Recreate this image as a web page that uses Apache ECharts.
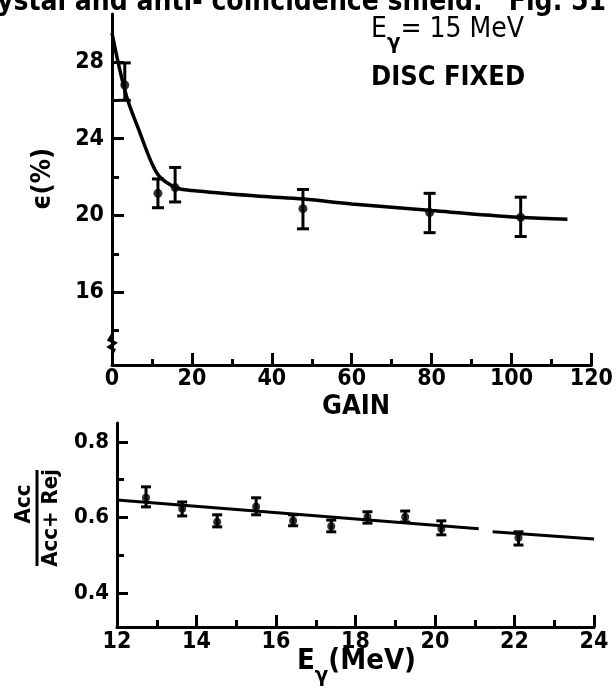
<!DOCTYPE html>
<html>
<head>
<meta charset="utf-8">
<script src="https://cdn.jsdelivr.net/npm/echarts@6/dist/echarts.min.js"></script>
<style>
  html, body { margin: 0; padding: 0; background: #fff; }
  #chart { width: 616px; height: 688px; }
</style>
</head>
<body>
<div id="chart"></div>
<script>
// ---- Upper panel: detection efficiency vs. gain (E_gamma = 15 MeV, disc fixed) ----
const gainPts  = [3.2, 11.5, 15.8, 47.8, 79.5, 102.3];
const effPts   = [26.8, 21.15, 21.45, 20.35, 20.15, 19.9];
const effLow   = [26.0, 20.4, 20.7, 19.3, 19.1, 18.9];
const effHigh  = [27.95, 21.9, 22.5, 21.35, 21.15, 20.95];
// hand-drawn trend curve through the efficiency points
const effCurveGain = [0, 3.5, 7, 10, 12, 16, 20, 37, 48, 60, 80, 102, 114];
const effCurveVal  = [29.5, 26.3, 24.3, 22.7, 22.0, 21.45, 21.3, 21.0, 20.85, 20.6, 20.25, 19.9, 19.8];
const effMajorTicks = [16, 20, 24, 28];
const effMinorTicks = [14, 18, 22, 26];
const effAxisBreak = 13.3;   // suppressed-zero mark on the efficiency axis

// ---- Lower panel: Acc/(Acc+Rej) vs. photon energy ----
const energyPts = [12.73, 13.64, 14.52, 15.5, 16.43, 17.39, 18.3, 19.25, 20.16, 22.1];
const ratioPts  = [0.652, 0.623, 0.588, 0.628, 0.591, 0.577, 0.601, 0.601, 0.570, 0.546];
const ratioLow  = [0.628, 0.604, 0.575, 0.607, 0.578, 0.562, 0.585, 0.588, 0.554, 0.527];
const ratioHigh = [0.681, 0.641, 0.607, 0.652, 0.607, 0.593, 0.615, 0.617, 0.591, 0.562];
// straight fit line, drawn in two pieces with a small gap near 21 MeV
const fitLeftE  = [12, 21.1];
const fitLeftR  = [0.646, 0.570];
const fitRightE = [21.45, 24];
const fitRightR = [0.562, 0.543];
const ratioMajorTicks = [0.4, 0.6, 0.8];
const ratioMinorTicks = [0.5, 0.7];

const INK = '#000';
const FONT = "'DejaVu Sans Condensed', 'DejaVu Sans', sans-serif";

const zip = (a, b) => a.map((v, i) => [v, b[i]]);

function errorBars(xs, lo, hi, axisIdx, capHalf, lw) {
  return {
    type: 'custom',
    xAxisIndex: axisIdx,
    yAxisIndex: axisIdx === 0 ? 0 : 2,
    data: xs.map((x, i) => [x, lo[i], hi[i]]),
    silent: true,
    z: 3,
    renderItem(params, api) {
      const a = api.coord([api.value(0), api.value(1)]);
      const b = api.coord([api.value(0), api.value(2)]);
      const st = { stroke: INK, lineWidth: lw };
      return {
        type: 'group',
        children: [
          { type: 'line', shape: { x1: a[0], y1: a[1], x2: b[0], y2: b[1] }, style: st },
          { type: 'line', shape: { x1: a[0] - capHalf, y1: a[1], x2: a[0] + capHalf, y2: a[1] }, style: st },
          { type: 'line', shape: { x1: b[0] - capHalf, y1: b[1], x2: b[0] + capHalf, y2: b[1] }, style: st }
        ]
      };
    }
  };
}

// zig-zag break drawn on the y axis of the upper panel
const axisBreakSeries = {
  type: 'custom',
  xAxisIndex: 0,
  yAxisIndex: 0,
  data: [[0, effAxisBreak]],
  silent: true,
  clip: false,
  z: 5,
  renderItem(params, api) {
    const p = api.coord([api.value(0), api.value(1)]);
    return {
      type: 'polyline',
      shape: { points: [[p[0], p[1] - 9], [p[0] - 3, p[1] - 4], [p[0] + 3, p[1] - 1],
                        [p[0] - 3, p[1] + 3], [p[0] + 2, p[1] + 6], [p[0], p[1] + 10]] },
      style: { stroke: INK, lineWidth: 3, fill: null }
    };
  }
};

const tickLabel = { color: INK, fontFamily: FONT, fontWeight: 'bold', fontSize: 23 };

const chart = echarts.init(document.getElementById('chart'), null, { renderer: 'canvas' });

chart.setOption({
  backgroundColor: '#fff',
  animation: false,
  grid: [
    { left: 112, top: 14, width: 480, height: 351 },
    { left: 117, top: 423, width: 477, height: 204 }
  ],
  xAxis: [
    {
      type: 'value', gridIndex: 0, min: 0, max: 120, interval: 20,
      axisLine: { lineStyle: { color: INK, width: 3 } },
      axisTick: { inside: true, length: 12, lineStyle: { color: INK, width: 3 } },
      minorTick: { show: true, splitNumber: 2, length: 6, lineStyle: { color: INK, width: 3 } },
      splitLine: { show: false },
      axisLabel: Object.assign({ margin: 3 }, tickLabel)
    },
    {
      type: 'value', gridIndex: 1, min: 12, max: 24, interval: 2,
      axisLine: { lineStyle: { color: INK, width: 3 } },
      axisTick: { inside: true, length: 12, lineStyle: { color: INK, width: 3 } },
      minorTick: { show: true, splitNumber: 2, length: 7, lineStyle: { color: INK, width: 3 } },
      splitLine: { show: false },
      axisLabel: Object.assign({ margin: 4 }, tickLabel)
    }
  ],
  yAxis: [
    {
      type: 'value', gridIndex: 0, min: 12.2, max: 30.5,
      axisLine: { lineStyle: { color: INK, width: 3 } },
      axisTick: { inside: true, length: 12, customValues: effMajorTicks, lineStyle: { color: INK, width: 3 } },
      splitLine: { show: false },
      axisLabel: Object.assign({ margin: 8, customValues: effMajorTicks }, tickLabel)
    },
    {
      type: 'value', gridIndex: 0, min: 12.2, max: 30.5, position: 'left', offset: 0,
      axisLine: { show: false },
      axisTick: { inside: true, length: 7, customValues: effMinorTicks, lineStyle: { color: INK, width: 3 } },
      splitLine: { show: false },
      axisLabel: { show: false }
    },
    {
      type: 'value', gridIndex: 1, min: 0.31, max: 0.85,
      axisLine: { lineStyle: { color: INK, width: 3 } },
      axisTick: { inside: true, length: 11, customValues: ratioMajorTicks, lineStyle: { color: INK, width: 3 } },
      splitLine: { show: false },
      axisLabel: Object.assign({ margin: 8, customValues: ratioMajorTicks, formatter: v => v.toFixed(1) }, tickLabel, { fontSize: 22 })
    },
    {
      type: 'value', gridIndex: 1, min: 0.31, max: 0.85, position: 'left', offset: 0,
      axisLine: { show: false },
      axisTick: { inside: true, length: 7, customValues: ratioMinorTicks, lineStyle: { color: INK, width: 3 } },
      splitLine: { show: false },
      axisLabel: { show: false }
    }
  ],
  series: [
    {
      type: 'line', xAxisIndex: 0, yAxisIndex: 0, smooth: 0.35, showSymbol: false,
      data: zip(effCurveGain, effCurveVal),
      lineStyle: { color: INK, width: 3.5 }, z: 2
    },
    errorBars(gainPts, effLow, effHigh, 0, 6, 3),
    {
      type: 'scatter', xAxisIndex: 0, yAxisIndex: 0, symbol: 'circle', symbolSize: 9,
      itemStyle: { color: INK }, data: zip(gainPts, effPts), z: 4
    },
    axisBreakSeries,
    {
      type: 'line', xAxisIndex: 1, yAxisIndex: 2, showSymbol: false,
      data: zip(fitLeftE, fitLeftR), lineStyle: { color: INK, width: 3 }, z: 2
    },
    {
      type: 'line', xAxisIndex: 1, yAxisIndex: 2, showSymbol: false,
      data: zip(fitRightE, fitRightR), lineStyle: { color: INK, width: 3 }, z: 2
    },
    errorBars(energyPts, ratioLow, ratioHigh, 1, 5, 3),
    {
      type: 'scatter', xAxisIndex: 1, yAxisIndex: 2, symbol: 'circle', symbolSize: 8,
      itemStyle: { color: INK }, data: zip(energyPts, ratioPts), z: 4
    }
  ],
  graphic: [
    {
      type: 'text', left: -3, top: -11,
      style: { text: 'ystal and anti- coincidence shield.   Fig. 51', fill: INK,
               font: 'bold 28px ' + FONT }
    },
    {
      type: 'text', left: 371, top: 16,
      style: {
        text: '{a|E}{s|γ}{a|= 15 MeV}',
        rich: {
          a: { fill: INK, fontFamily: FONT, fontSize: 28, verticalAlign: 'top' },
          s: { fill: INK, fontFamily: FONT, fontWeight: 'bold', fontSize: 22, padding: [16, 0, 0, 0], verticalAlign: 'top' }
        }
      }
    },
    {
      type: 'text', left: 371, top: 64,
      style: { text: 'DISC FIXED', fill: INK, font: 'bold 27px ' + FONT }
    },
    {
      type: 'text', left: 322, top: 393,
      style: { text: 'GAIN', fill: INK, font: 'bold 27px ' + FONT }
    },
    {
      type: 'text', x: 43, y: 179, rotation: Math.PI / 2,
      style: { text: 'ϵ(%)', fill: INK, font: 'bold 27px ' + FONT, align: 'center', verticalAlign: 'middle' }
    },
    {
      type: 'group', x: 37, y: 518, rotation: Math.PI / 2,
      children: [
        { type: 'text', x: 14, y: -2,
          style: { text: 'Acc', fill: INK, font: 'bold 22px ' + FONT, align: 'center', verticalAlign: 'bottom' } },
        { type: 'line', shape: { x1: -48, y1: 0, x2: 48, y2: 0 }, style: { stroke: INK, lineWidth: 3 } },
        { type: 'text', x: 0, y: 3,
          style: { text: 'Acc+ Rej', fill: INK, font: 'bold 22px ' + FONT, align: 'center', verticalAlign: 'top' } }
      ]
    },
    {
      type: 'text', left: 297, top: 647,
      style: {
        text: '{a|E}{s|γ}{a|(MeV)}',
        rich: {
          a: { fill: INK, fontFamily: FONT, fontWeight: 'bold', fontSize: 29, verticalAlign: 'top' },
          s: { fill: INK, fontFamily: FONT, fontWeight: 'bold', fontSize: 22, padding: [18, 0, 0, 0], verticalAlign: 'top' }
        }
      }
    }
  ]
});
</script>
</body>
</html>
